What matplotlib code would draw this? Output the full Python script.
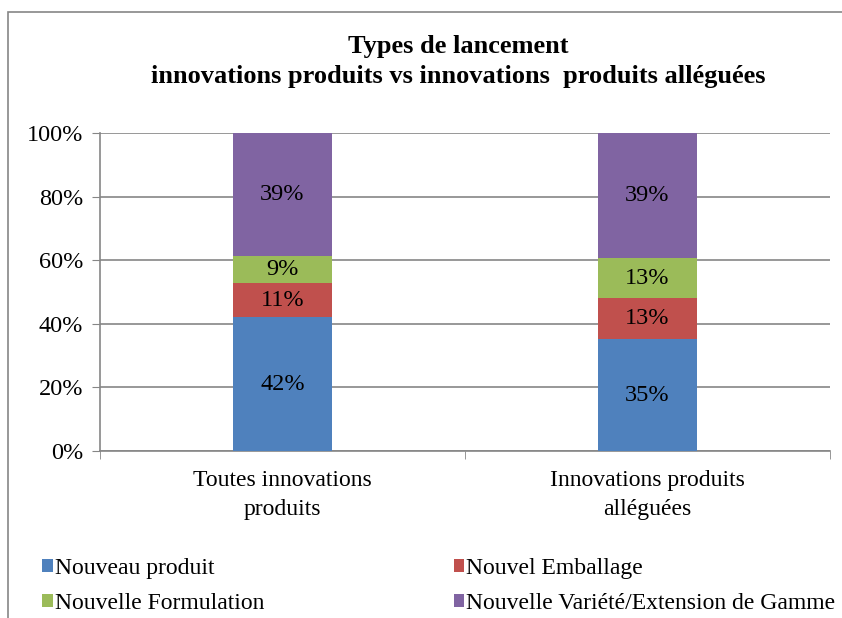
import matplotlib.pyplot as plt
import numpy as np
from matplotlib.patches import Rectangle

categories = ["Toutes innovations\nproduits", "Innovations produits\nalléguées"]
series = ["Nouveau produit", "Nouvel Emballage", "Nouvelle Formulation",
          "Nouvelle Variété/Extension de Gamme"]
nouveau_produit = [0.421, 0.352]
nouvel_emballage = [0.107, 0.128]
nouvelle_formulation = [0.086, 0.126]
nouvelle_variete = [0.386, 0.394]
colors = ["#4f81bd", "#c0504d", "#9bbb59", "#8064a2"]

plt.rcParams['font.family'] = ['Liberation Serif', 'DejaVu Serif']

fig = plt.figure(figsize=(8.42, 6.18), dpi=100)
ax = fig.add_axes([100 / 842, 1 - 451 / 618, 730 / 842, 318 / 618])

# cadre extérieur du graphique
fig.patches.append(Rectangle((8 / 842, -0.1), 1.2, 1 - 12 / 618 + 0.1,
                             transform=fig.transFigure, fill=False,
                             edgecolor="#868686", linewidth=1.2))

x = np.arange(len(categories))
bottom = np.zeros(len(categories))
for name, vals, col in zip(series,
                           [nouveau_produit, nouvel_emballage, nouvelle_formulation, nouvelle_variete],
                           colors):
    vals = np.array(vals)
    ax.bar(x, vals, 0.27, bottom=bottom, color=col, label=name, zorder=3)
    for xi, b, v in zip(x, bottom, vals):
        ax.text(xi, b + v / 2, f"{v:.0%}", ha="center", va="center", fontsize=17.5, zorder=4)
    bottom += vals

ax.set_xlim(-0.5, 1.5)
ax.set_ylim(0, 1)
ax.set_yticks(np.arange(0, 1.01, 0.2))
ax.set_yticklabels([f"{int(round(v * 100))}%" for v in np.arange(0, 1.01, 0.2)], fontsize=17.5)
ax.yaxis.grid(True, color="#868686", linewidth=1.2, zorder=0)
ax.set_xticks(x)
ax.set_xticklabels(categories, fontsize=17, linespacing=1.45)
ax.set_xticks([-0.5, 0.5, 1.5], minor=True)
ax.tick_params(axis="x", which="major", length=0, pad=14)
ax.tick_params(axis="x", which="minor", length=6, color="#868686")
ax.tick_params(axis="y", length=6, color="#868686", pad=6)
for s in ["top", "right"]:
    ax.spines[s].set_visible(False)
for s in ["left", "bottom"]:
    ax.spines[s].set_color("#868686")
    ax.spines[s].set_linewidth(1.2)

fig.text(458 / 842, 1 - 46 / 618, "Types de lancement", ha="center", va="center",
         fontsize=19, fontweight="bold")
fig.text(458 / 842, 1 - 76 / 618, "innovations produits vs innovations  produits alléguées",
         ha="center", va="center", fontsize=19, fontweight="bold")

handles, labels = ax.get_legend_handles_labels()
order = [0, 2, 1, 3]
fig.legend([handles[i] for i in order], [labels[i] for i in order], ncol=2,
           loc="lower left", bbox_to_anchor=(21 / 842, -17 / 618), frameon=False,
           fontsize=17, handlelength=0.45, handleheight=0.45, handletextpad=0.1,
           columnspacing=8.0, labelspacing=0.6)

fig.savefig("out.png", dpi=100)
